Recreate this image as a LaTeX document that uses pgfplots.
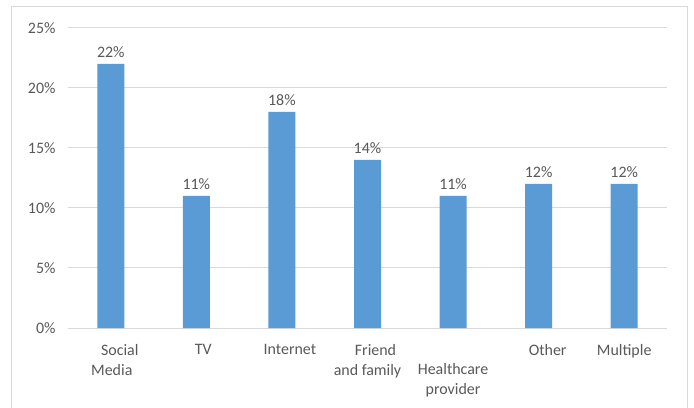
\documentclass[border=0pt]{standalone}
\usepackage{pgfplots}
\pgfplotsset{compat=1.18}
\usepackage{fontspec}
\setmainfont{Carlito}
\definecolor{barblue}{HTML}{5B9BD5}
\definecolor{gridgray}{HTML}{D9D9D9}
\definecolor{txtgray}{HTML}{595959}
\begin{document}
\begin{tikzpicture}
\path[use as bounding box] (0,0) rectangle (694bp,408bp);
\fill[white] (0,0) rectangle (694bp,408bp);
\draw[gridgray, line width=1bp] (11.5bp,-5bp) -- (11.5bp,401bp) -- (687bp,401bp) -- (687bp,-5bp);
\begin{axis}[
  at={(68bp,80bp)}, anchor=south west,
  scale only axis,
  width=599bp, height=300bp,
  /pgf/number format/assume math mode=true,
  xmin=-0.5, xmax=6.5, ymin=0, ymax=25,
  ytick={0,5,10,15,20,25},
  yticklabels={0\%,5\%,10\%,15\%,20\%,25\%},
  xtick={0,1,2,3,4,5,6},
  xticklabels={{\hspace*{18bp}Social\\\hspace*{2bp}Media},{\hspace*{14bp}TV},{\hspace*{16bp}Internet},{\hspace*{16bp}Friend\\and family},{\phantom{X}\\Healthcare\\provider},{\hspace*{18bp}Other},{Multiple}},
  axis line style={draw=none},
  axis x line*=bottom,
  ymajorgrids, grid style={gridgray, line width=1bp},
  major tick length=0pt,
  tick label style={font=\fontsize{16}{20}\selectfont, text=txtgray},
  xticklabel style={align=center, anchor=north, yshift=-13bp},
  yticklabel style={xshift=-9bp},
  ybar, bar width=27bp,
  nodes near coords={\pgfmathprintnumber{\pgfplotspointmeta}\%},
  nodes near coords style={font=\fontsize{16}{20}\selectfont, text=txtgray, yshift=3bp},
  clip=false,
]
\draw[gridgray, line width=1bp] (axis cs:-0.5,0) -- (axis cs:6.5,0);
\addplot[fill=barblue, draw=none] coordinates {(0,22) (1,11) (2,18) (3,14) (4,11) (5,12) (6,12)};
\end{axis}
\end{tikzpicture}
\end{document}
